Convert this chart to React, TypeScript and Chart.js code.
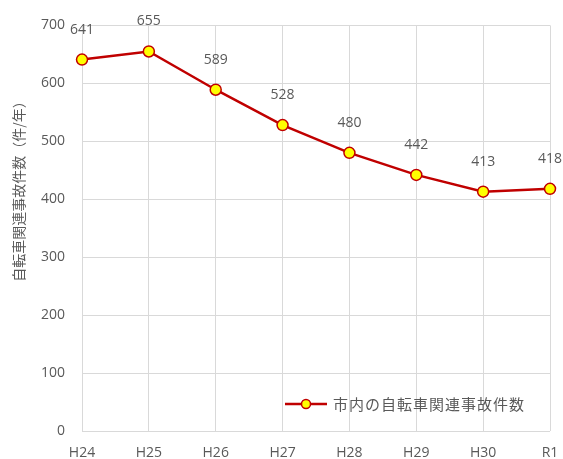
import React, { useEffect, useRef } from "react";
import { Chart, registerables } from "chart.js";

Chart.register(...registerables);

const categories = ["H24", "H25", "H26", "H27", "H28", "H29", "H30", "R1"];
const accidents = [641, 655, 589, 528, 480, 442, 413, 418];
const seriesName = "市内の自転車関連事故件数";
const yTitle = "自転車関連事故件数（件/年）";

const FONT = "'Open Sans', 'Noto Sans CJK JP', sans-serif";
const JFONT = "'Noto Sans CJK JP', sans-serif";
const TEXT = "#595959";
const RED = "#C00000";

const labelPlugin = {
  id: "labelsAndLegend",
  afterDatasetsDraw(chart: any) {
    const ctx = chart.ctx;
    const meta = chart.getDatasetMeta(0);
    ctx.save();
    ctx.font = `14px ${FONT}`;
    ctx.fillStyle = TEXT;
    ctx.textAlign = "center";
    ctx.textBaseline = "middle";
    meta.data.forEach((pt: any, i: number) => {
      ctx.fillText(String(accidents[i]), pt.x, pt.y - 30);
    });
    // legend inside plot area, bottom right
    const area = chart.chartArea;
    const ly = area.bottom - 27;
    const lx = area.left + 203;
    ctx.strokeStyle = RED;
    ctx.lineWidth = 2.5;
    ctx.beginPath();
    ctx.moveTo(lx, ly);
    ctx.lineTo(lx + 42, ly);
    ctx.stroke();
    ctx.beginPath();
    ctx.arc(lx + 21, ly, 4.5, 0, Math.PI * 2);
    ctx.fillStyle = "#FFFF00";
    ctx.fill();
    ctx.lineWidth = 1.5;
    ctx.stroke();
    ctx.fillStyle = TEXT;
    ctx.textAlign = "left";
    ctx.font = `15px ${JFONT}`;
    (ctx as any).letterSpacing = "1px";
    ctx.fillText(seriesName, lx + 48, ly);
    // y-axis title
    ctx.font = `14px ${JFONT}`;
    (ctx as any).letterSpacing = "0px";
    ctx.translate(19, 188);
    ctx.rotate(-Math.PI / 2);
    ctx.textAlign = "center";
    ctx.fillText(yTitle, 0, 0);
    ctx.restore();
  },
};

export default function App() {
  const ref = useRef<HTMLCanvasElement | null>(null);
  useEffect(() => {
    document.body.style.margin = "0";
    if (!ref.current) return;
    const chart = new Chart(ref.current, {
      type: "line",
      data: {
        labels: categories,
        datasets: [
          {
            label: seriesName,
            data: accidents,
            borderColor: RED,
            borderWidth: 2.5,
            backgroundColor: "#FFFF00",
            pointBackgroundColor: "#FFFF00",
            pointBorderColor: RED,
            pointBorderWidth: 1.5,
            pointRadius: 5.5,
            tension: 0,
          },
        ],
      },
      options: {
        animation: false,
        responsive: false,
        maintainAspectRatio: false,
        layout: { padding: { top: 16, right: 13, left: 0, bottom: 0 } },
        plugins: { legend: { display: false }, tooltip: { enabled: false } },
        scales: {
          x: {
            offset: false,
            grid: { color: "#D9D9D9", lineWidth: 1, drawTicks: false },
            border: { display: false },
            ticks: { color: TEXT, font: { family: FONT, size: 14 }, padding: 14, maxRotation: 0 },
            afterFit: (s: any) => {
              s.height = 28;
              s.paddingLeft = 0;
              s.paddingRight = 0;
            },
          },
          y: {
            min: 0,
            max: 700,
            grid: { color: "#D9D9D9", lineWidth: 1, drawTicks: false },
            border: { display: false },
            ticks: { stepSize: 100, color: TEXT, font: { family: FONT, size: 14 }, padding: 17 },
            afterFit: (s: any) => {
              s.width = 82;
            },
          },
        },
      },
      plugins: [labelPlugin],
    });
    return () => chart.destroy();
  }, []);
  return (
    <div style={{ width: 563, height: 459 }}>
      <canvas ref={ref} width={563} height={459} style={{ width: 563, height: 459, display: "block" }} />
    </div>
  );
}
